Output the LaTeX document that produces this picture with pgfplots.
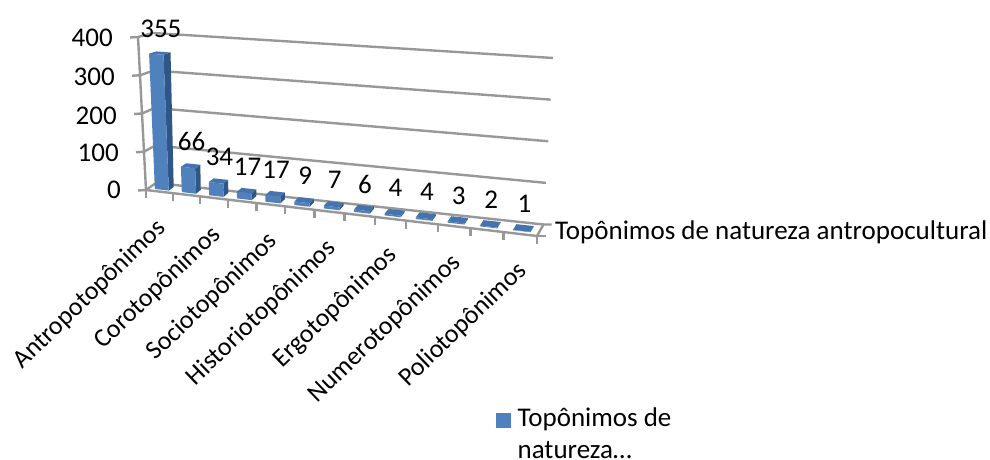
\documentclass[border=0pt]{standalone}
\usepackage{pgfplots}
\usepackage{pgfplotstable}
\usepackage{fontspec}
\setmainfont{Carlito}
\pgfplotsset{compat=1.18}

\definecolor{barfront}{HTML}{4F81BD}
\definecolor{barside}{HTML}{2F5687}
\definecolor{bartop}{HTML}{4473AE}
\definecolor{wallline}{HTML}{989898}

% Occurrences per category
\pgfplotstableread{
idx value
0 355
1 66
2 34
3 17
4 17
5 9
6 7
7 6
8 4
9 4
10 3
11 2
12 1
}\toponyms

% Categories whose names are printed under the floor
\pgfplotstableread{
idx name
0.5 Antropotopônimos
2.5 Corotopônimos
4.5 Sociotopônimos
6.5 Historiotopônimos
8.5 Ergotopônimos
10.5 Numerotopônimos
12.5 Poliotopônimos
}\catnames

% Value axis levels with the placement of their labels
\pgfplotstableread{
level lx ly
0 121 190
100 119 153
200 117 116
300 115 77
400 113 38
}\levels

\newcommand{\bigfont}{\fontsize{27}{32}\selectfont}
\newcommand{\catfont}{\fontsize{26}{31}\selectfont}

\begin{document}
\begin{tikzpicture}
\path[use as bounding box] (0,0) rectangle (990pt,460pt);
\begin{axis}[
  at={(0,0)}, anchor=south west,
  scale only axis, width=990pt, height=460pt,
  xmin=0, xmax=990, ymin=0, ymax=460, y dir=reverse,
  hide axis, clip=false,
  declare function={
    S(\u)=(\u/13)/((\u/13)+1.13*(1-\u/13));
    px(\s,\w,\z)=(1-\z)*((1-\w)*((1-\s)*146+\s*537)+\w*((1-\s)*156+\s*543.5))
                +\z*((1-\w)*((1-\s)*138+\s*545)+\w*((1-\s)*153+\s*553));
    py(\s,\w,\z)=(1-\z)*((1-\w)*((1-\s)*190+\s*236)+\w*((1-\s)*183+\s*224.5))
                +\z*((1-\w)*((1-\s)*37+\s*70)+\w*((1-\s)*33+\s*58));
  },
  legend style={at={(axis cs:495.7,402.5)}, anchor=north west, draw=none, fill=none,
    inner sep=0pt, outer sep=0pt, font=\bigfont, row sep=0pt},
  legend cell align=left,
]
% Walls and floor: one back line and one side line per level, with its tick
\pgfplotsinvokeforeach{0,1,2,3,4}{
  \addplot[wallline, line width=2.4pt, forget plot] coordinates {
    ({px(0,0,#1/4)-8},{py(0,0,#1/4)+0.5})
    ({px(0,0,#1/4)},{py(0,0,#1/4)})
    ({px(0,1,#1/4)},{py(0,1,#1/4)})
    ({px(1,1,#1/4)},{py(1,1,#1/4)})
  };
}
\addplot[wallline, line width=2.4pt, forget plot] coordinates {
  ({px(0,0,1)},{py(0,0,1)}) ({px(0,0,0)},{py(0,0,0)})
  ({px(1,0,0)},{py(1,0,0)}) ({px(1,1,0)},{py(1,1,0)})
  ({px(1,1,0)+8},{py(1,1,0)})
};
\addplot[wallline, line width=2.4pt, forget plot] coordinates {
  ({px(1,0,0)},{py(1,0,0)}) ({px(1,0,0)+9},{py(1,0,0)})
};
% Category ticks along the front edge of the floor
\pgfplotsinvokeforeach{0,...,13}{
  \addplot[wallline, line width=2.4pt, forget plot] coordinates {
    ({px(S(#1),0,0)},{py(S(#1),0,0)}) ({px(S(#1),0,0)},{py(S(#1),0,0)+8})
  };
}
% Bars: side, front and top faces built from each row of the table
\pgfplotsinvokeforeach{0,...,12}{
  \pgfplotstablegetelem{#1}{value}\of\toponyms
  \pgfmathsetmacro\hh{\pgfplotsretval/400}
  \pgfmathsetmacro\sa{S(#1+0.24)}
  \pgfmathsetmacro\sb{S(#1+0.76)}
  \addplot[fill=barside, draw=none, forget plot] coordinates {
    ({px(\sb,.25,0)},{py(\sb,.25,0)}) ({px(\sb,.75,0)},{py(\sb,.75,0)})
    ({px(\sb,.75,\hh)},{py(\sb,.75,\hh)}) ({px(\sb,.25,\hh)},{py(\sb,.25,\hh)})
  } -- cycle;
  \addplot[fill=barfront, draw=none, forget plot] coordinates {
    ({px(\sa,.25,0)},{py(\sa,.25,0)}) ({px(\sb,.25,0)},{py(\sb,.25,0)})
    ({px(\sb,.25,\hh)},{py(\sb,.25,\hh)}) ({px(\sa,.25,\hh)},{py(\sa,.25,\hh)})
  } -- cycle;
  \addplot[fill=bartop, draw=none, forget plot] coordinates {
    ({px(\sa,.25,\hh)},{py(\sa,.25,\hh)}) ({px(\sb,.25,\hh)},{py(\sb,.25,\hh)})
    ({px(\sb,.75,\hh)},{py(\sb,.75,\hh)}) ({px(\sa,.75,\hh)},{py(\sa,.75,\hh)})
  } -- cycle;
}
% Value labels above the bars
\addplot[draw=none, mark=none, forget plot, point meta=explicit symbolic,
  nodes near coords, nodes near coords style={font=\bigfont, anchor=center, yshift=24pt, xshift=1pt, inner sep=0pt, text=black}]
  table[x expr={px(S(\thisrow{idx}+0.5),.5,\thisrow{value}/400)},
        y expr={py(S(\thisrow{idx}+0.5),.5,\thisrow{value}/400)}, meta=value] {\toponyms};
% Category names, rotated, ending just under the floor
\addplot[draw=none, mark=none, forget plot, point meta=explicit symbolic,
  nodes near coords, nodes near coords style={font=\catfont, anchor=east, rotate=44, inner sep=0pt, text=black}]
  table[x expr={px(S(\thisrow{idx}),0,0)+3}, y expr={py(S(\thisrow{idx}),0,0)+33}, meta=name] {\catnames};
% Value axis numbers
\addplot[draw=none, mark=none, forget plot, point meta=explicit symbolic,
  nodes near coords, nodes near coords style={font=\bigfont, anchor=east, inner sep=0pt, text=black}]
  table[x=lx, y=ly, meta=level] {\levels};
% Series name at the end of the depth axis
\node[font=\bigfont, anchor=west, inner sep=0pt] at (axis cs:555,232) {Topônimos de natureza antropocultural};
% Legend
\addlegendimage{legend image code/.code={\fill[barfront] (0pt,-11pt) rectangle (14.5pt,3.5pt);}}
\addlegendentry{\begin{tabular}[t]{@{\hspace{5pt}}l@{}}Topônimos de\\natureza…\end{tabular}}
\end{axis}
\end{tikzpicture}
\end{document}
